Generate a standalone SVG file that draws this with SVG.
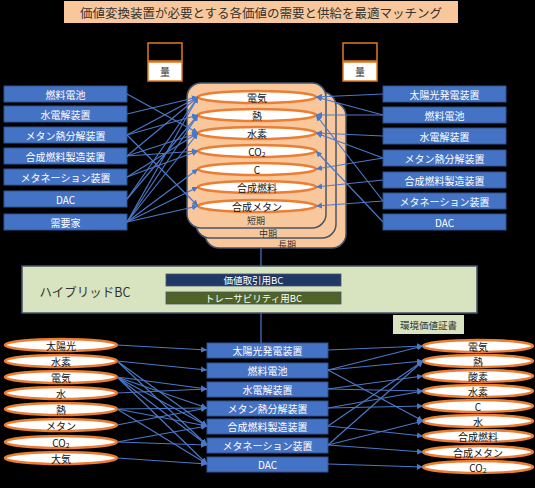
<svg xmlns="http://www.w3.org/2000/svg" width="535" height="488" viewBox="0 0 535 488">
<defs>
<marker id="ah" markerWidth="6" markerHeight="6" refX="6" refY="3" orient="auto" markerUnits="userSpaceOnUse"><path d="M0,0 L6,3 L0,6 z" fill="#4a78c8"/></marker>
<style>
text{font-family:"Noto Sans CJK JP","Noto Sans",sans-serif;text-anchor:middle;dominant-baseline:central}
.box rect{fill:#4472c4;stroke:#2f528f;stroke-width:1}
.box text{fill:#fff;font-size:10px}
.ov ellipse{fill:#fff;stroke:#ed7d31;stroke-width:2.4}
.ov text{fill:#111;font-size:10px}
.card rect{fill:#f8c89c;stroke:#44546a;stroke-width:1.5}
.card text{fill:#333;font-size:9px}
#connectors line{stroke:#4a78c8;stroke-width:1.2;marker-end:url(#ah)}
#connectors line.plain{marker-end:none}
.qty rect{stroke:#e07b20;stroke-width:1.5}
</style>
</defs>
<rect width="535" height="488" fill="#000"/>
<g id="title"><rect x="64" y="1" width="394" height="22" fill="#f8c89c"/><text x="261" y="12.5" font-size="12.5" fill="#333">価値変換装置が必要とする各価値の需要と供給を最適マッチング</text></g>
<g id="qty-left" class="qty"><rect x="148" y="43" width="34" height="18" fill="#000"/><rect x="148" y="62" width="34" height="19" fill="#fff"/><text x="165" y="71.5" font-size="10" fill="#333">量</text></g>
<g id="qty-right" class="qty"><rect x="343" y="43" width="34" height="18" fill="#000"/><rect x="343" y="62" width="34" height="19" fill="#fff"/><text x="360" y="71.5" font-size="10" fill="#333">量</text></g>

<g id="card-long" class="card"><rect x="205" y="102" width="141" height="146" rx="14"/><text x="287" y="244.5">長期</text></g>
<g id="card-mid" class="card"><rect x="196" y="92" width="140" height="146" rx="14"/><text x="268" y="233">中期</text></g>
<g id="card-short" class="card"><rect x="187" y="83" width="139" height="145" rx="14"/><text x="256" y="220">短期</text></g>

<g id="v-denki" class="ov"><ellipse cx="257" cy="97" rx="59" ry="6"/><text x="257" y="97">電気</text></g>
<g id="v-netsu" class="ov"><ellipse cx="257" cy="115" rx="59" ry="6"/><text x="257" y="115">熱</text></g>
<g id="v-suiso" class="ov"><ellipse cx="257" cy="133" rx="59" ry="6"/><text x="257" y="133">水素</text></g>
<g id="v-co2" class="ov"><ellipse cx="257" cy="151" rx="59" ry="6"/><text x="257" y="151">CO<tspan font-size="7" dy="3">2</tspan></text></g>
<g id="v-c" class="ov"><ellipse cx="257" cy="169" rx="59" ry="6"/><text x="257" y="169">C</text></g>
<g id="v-fuel" class="ov"><ellipse cx="257" cy="187" rx="59" ry="6"/><text x="257" y="187">合成燃料</text></g>
<g id="v-methane" class="ov"><ellipse cx="257" cy="206" rx="59" ry="6"/><text x="257" y="206" font-size="9.5">合成メタン</text></g>

<g id="d-fc" class="box"><rect x="4" y="86" width="123" height="16"/><text x="65.5" y="94">燃料電池</text></g>
<g id="d-el" class="box"><rect x="4" y="106" width="123" height="16"/><text x="65.5" y="114">水電解装置</text></g>
<g id="d-mp" class="box"><rect x="4" y="127" width="123" height="16"/><text x="65.5" y="135">メタン熱分解装置</text></g>
<g id="d-sf" class="box"><rect x="4" y="148" width="123" height="16"/><text x="65.5" y="156">合成燃料製造装置</text></g>
<g id="d-mt" class="box"><rect x="4" y="169" width="123" height="16"/><text x="65.5" y="177">メタネーション装置</text></g>
<g id="d-dac" class="box"><rect x="4" y="191" width="123" height="16"/><text x="65.5" y="199">DAC</text></g>
<g id="d-user" class="box"><rect x="4" y="214" width="123" height="16"/><text x="65.5" y="222">需要家</text></g>

<g id="s-pv" class="box"><rect x="383" y="86" width="123" height="16"/><text x="444.5" y="94">太陽光発電装置</text></g>
<g id="s-fc" class="box"><rect x="383" y="107" width="123" height="16"/><text x="444.5" y="115">燃料電池</text></g>
<g id="s-el" class="box"><rect x="383" y="128" width="123" height="16"/><text x="444.5" y="136">水電解装置</text></g>
<g id="s-mp" class="box"><rect x="383" y="150" width="123" height="16"/><text x="444.5" y="158">メタン熱分解装置</text></g>
<g id="s-sf" class="box"><rect x="383" y="172" width="123" height="16"/><text x="444.5" y="180">合成燃料製造装置</text></g>
<g id="s-mt" class="box"><rect x="383" y="193" width="123" height="16"/><text x="444.5" y="201">メタネーション装置</text></g>
<g id="s-dac" class="box"><rect x="383" y="214" width="123" height="16"/><text x="444.5" y="222">DAC</text></g>

<g id="hybrid-bc"><rect x="22" y="266" width="455" height="47" fill="#d8e4bf" stroke="#44546a" stroke-width="1.5"/><text x="85" y="291" font-size="12.5" fill="#333">ハイブリッドBC</text>
<rect x="166" y="274" width="175" height="12" fill="#1f3864" stroke="#44546a" stroke-width="0.8"/><text x="253.5" y="280" font-size="9.5" fill="#fff">価値取引用BC</text>
<rect x="166" y="292" width="175" height="12" fill="#4f6228" stroke="#44546a" stroke-width="0.8"/><text x="253.5" y="298" font-size="9.5" fill="#fff">トレーサビリティ用BC</text></g>
<g id="cert"><rect x="393" y="315" width="71" height="19" fill="#d8e4bf"/><text x="428.5" y="324.5" font-size="9.5" fill="#333">環境価値証書</text></g>

<g id="i-solar" class="ov"><ellipse cx="61" cy="345" rx="56" ry="6"/><text x="61" y="345">太陽光</text></g>
<g id="i-h2" class="ov"><ellipse cx="61" cy="361" rx="56" ry="6"/><text x="61" y="361">水素</text></g>
<g id="i-el" class="ov"><ellipse cx="61" cy="377" rx="56" ry="6"/><text x="61" y="377">電気</text></g>
<g id="i-water" class="ov"><ellipse cx="61" cy="393" rx="56" ry="6"/><text x="61" y="393">水</text></g>
<g id="i-heat" class="ov"><ellipse cx="61" cy="409" rx="56" ry="6"/><text x="61" y="409">熱</text></g>
<g id="i-ch4" class="ov"><ellipse cx="61" cy="425" rx="56" ry="6"/><text x="61" y="425">メタン</text></g>
<g id="i-co2" class="ov"><ellipse cx="61" cy="442" rx="56" ry="6"/><text x="61" y="442">CO<tspan font-size="7" dy="3">2</tspan></text></g>
<g id="i-air" class="ov"><ellipse cx="61" cy="458" rx="56" ry="6"/><text x="61" y="458">大気</text></g>

<g id="b-pv" class="box"><rect x="207" y="343" width="121" height="15"/><text x="267.5" y="350.5">太陽光発電装置</text></g>
<g id="b-fc" class="box"><rect x="207" y="363" width="121" height="15"/><text x="267.5" y="370.5">燃料電池</text></g>
<g id="b-el" class="box"><rect x="207" y="382" width="121" height="15"/><text x="267.5" y="389.5">水電解装置</text></g>
<g id="b-mp" class="box"><rect x="207" y="401" width="121" height="15"/><text x="267.5" y="408.5">メタン熱分解装置</text></g>
<g id="b-sf" class="box"><rect x="207" y="419" width="121" height="15"/><text x="267.5" y="426.5">合成燃料製造装置</text></g>
<g id="b-mt" class="box"><rect x="207" y="438" width="121" height="15"/><text x="267.5" y="445.5">メタネーション装置</text></g>
<g id="b-dac" class="box"><rect x="207" y="457" width="121" height="15"/><text x="267.5" y="464.5">DAC</text></g>

<g id="o-el" class="ov"><ellipse cx="478" cy="346" rx="55" ry="6"/><text x="478" y="346">電気</text></g>
<g id="o-heat" class="ov"><ellipse cx="478" cy="361" rx="55" ry="6"/><text x="478" y="361">熱</text></g>
<g id="o-o2" class="ov"><ellipse cx="478" cy="376" rx="55" ry="6"/><text x="478" y="376">酸素</text></g>
<g id="o-h2" class="ov"><ellipse cx="478" cy="391" rx="55" ry="6"/><text x="478" y="391">水素</text></g>
<g id="o-c" class="ov"><ellipse cx="478" cy="406" rx="55" ry="6"/><text x="478" y="406">C</text></g>
<g id="o-water" class="ov"><ellipse cx="478" cy="421" rx="55" ry="6"/><text x="478" y="421">水</text></g>
<g id="o-fuel" class="ov"><ellipse cx="478" cy="436" rx="55" ry="6"/><text x="478" y="436">合成燃料</text></g>
<g id="o-ch4" class="ov"><ellipse cx="478" cy="452" rx="55" ry="6"/><text x="478" y="452">合成メタン</text></g>
<g id="o-co2" class="ov"><ellipse cx="478" cy="467" rx="55" ry="6"/><text x="478" y="467">CO<tspan font-size="7" dy="3">2</tspan></text></g>

<g id="connectors">
<line class="plain" x1="261" y1="248" x2="261" y2="266"/>
<line class="plain" x1="261" y1="313" x2="261" y2="343"/>
<line x1="127" y1="94" x2="198" y2="133"/>
<line x1="127" y1="114" x2="198" y2="97"/>
<line x1="127" y1="135" x2="198" y2="97"/>
<line x1="127" y1="135" x2="198" y2="115"/>
<line x1="127" y1="135" x2="198" y2="206"/>
<line x1="127" y1="156" x2="198" y2="97"/>
<line x1="127" y1="156" x2="198" y2="133"/>
<line x1="127" y1="156" x2="198" y2="151"/>
<line x1="127" y1="177" x2="198" y2="133"/>
<line x1="127" y1="177" x2="198" y2="151"/>
<line x1="127" y1="199" x2="198" y2="97"/>
<line x1="127" y1="199" x2="198" y2="115"/>
<line x1="127" y1="222" x2="198" y2="97"/>
<line x1="127" y1="222" x2="198" y2="115"/>
<line x1="127" y1="222" x2="198" y2="133"/>
<line x1="127" y1="222" x2="198" y2="169"/>
<line x1="127" y1="222" x2="198" y2="187"/>
<line x1="127" y1="222" x2="198" y2="206"/>
<line x1="383" y1="94" x2="316" y2="97"/>
<line x1="383" y1="115" x2="316" y2="97"/>
<line x1="383" y1="115" x2="316" y2="115"/>
<line x1="383" y1="136" x2="316" y2="133"/>
<line x1="383" y1="158" x2="316" y2="133"/>
<line x1="383" y1="158" x2="316" y2="169"/>
<line x1="383" y1="180" x2="316" y2="187"/>
<line x1="383" y1="201" x2="316" y2="206"/>
<line x1="383" y1="201" x2="316" y2="115"/>
<line x1="383" y1="222" x2="316" y2="151"/>
<line x1="117" y1="345" x2="207" y2="350"/>
<line x1="117" y1="361" x2="207" y2="370"/>
<line x1="117" y1="361" x2="207" y2="426"/>
<line x1="117" y1="361" x2="207" y2="445"/>
<line x1="117" y1="377" x2="207" y2="389"/>
<line x1="117" y1="377" x2="207" y2="408"/>
<line x1="117" y1="377" x2="207" y2="426"/>
<line x1="117" y1="377" x2="207" y2="445"/>
<line x1="117" y1="377" x2="207" y2="464"/>
<line x1="117" y1="393" x2="207" y2="389"/>
<line x1="117" y1="409" x2="207" y2="408"/>
<line x1="117" y1="409" x2="207" y2="426"/>
<line x1="117" y1="409" x2="207" y2="464"/>
<line x1="117" y1="425" x2="207" y2="408"/>
<line x1="117" y1="442" x2="207" y2="426"/>
<line x1="117" y1="442" x2="207" y2="445"/>
<line x1="117" y1="458" x2="207" y2="464"/>
<line x1="328" y1="350" x2="423" y2="346"/>
<line x1="328" y1="370" x2="423" y2="346"/>
<line x1="328" y1="370" x2="423" y2="361"/>
<line x1="328" y1="370" x2="423" y2="421"/>
<line x1="328" y1="389" x2="423" y2="376"/>
<line x1="328" y1="389" x2="423" y2="391"/>
<line x1="328" y1="408" x2="423" y2="391"/>
<line x1="328" y1="408" x2="423" y2="406"/>
<line x1="328" y1="426" x2="423" y2="436"/>
<line x1="328" y1="426" x2="423" y2="361"/>
<line x1="328" y1="445" x2="423" y2="452"/>
<line x1="328" y1="445" x2="423" y2="421"/>
<line x1="328" y1="445" x2="423" y2="361"/>
<line x1="328" y1="464" x2="423" y2="467"/>
</g>
</svg>
